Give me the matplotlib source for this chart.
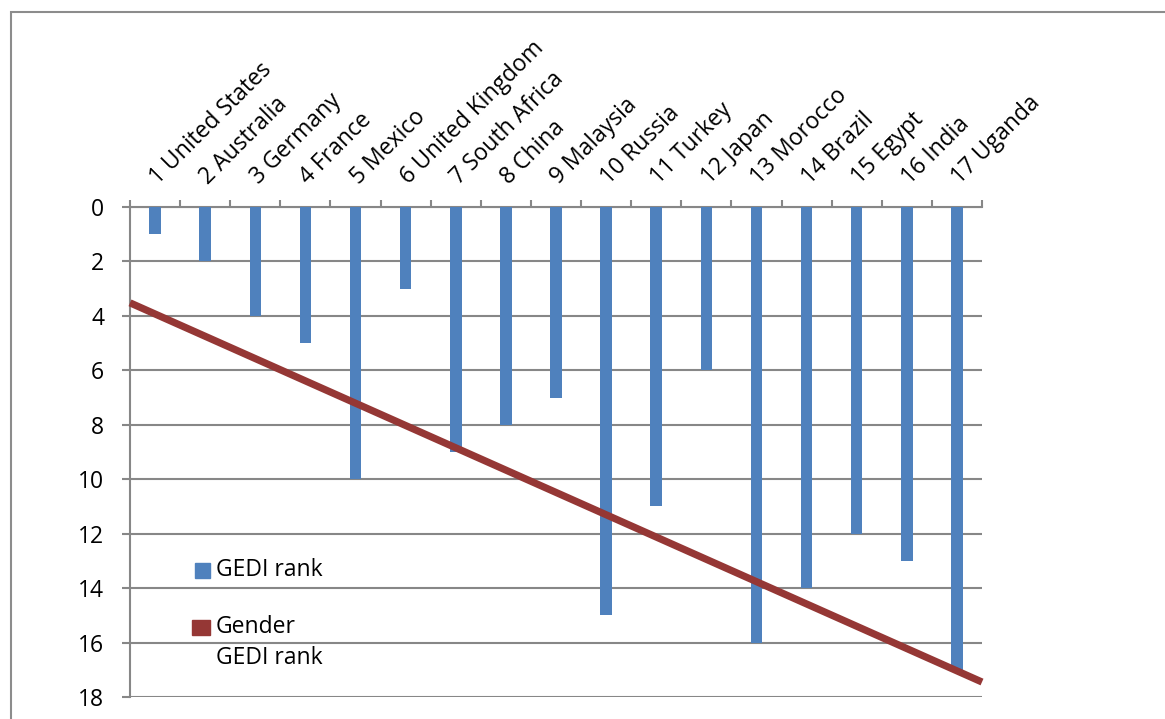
import matplotlib.pyplot as plt
import matplotlib.transforms as mtransforms
from matplotlib.patches import Rectangle

# Countries ordered by GEDI rank
countries = ["United States", "Australia", "Germany", "France", "Mexico",
             "United Kingdom", "South Africa", "China", "Malaysia", "Russia",
             "Turkey", "Japan", "Morocco", "Brazil", "Egypt", "India", "Uganda"]
gedi_rank = [1, 2, 4, 5, 10, 3, 9, 8, 7, 15, 11, 6, 16, 14, 12, 13, 17]

# Gender GEDI rank trend, value at the left and right edges of the category axis
gender_trend = [3.52, 17.45]

y_ticks = list(range(0, 19, 2))

blue = "#4F81BD"
red = "#953735"
grid_gray = "#878787"
fs = 16.5

plt.rcParams['font.family'] = ['Open Sans', 'DejaVu Sans']

W, H = 1165, 719
fig = plt.figure(figsize=(W / 100, H / 100), dpi=100)
ax = fig.add_axes([130 / W, (H - 697) / H, 852 / W, 490 / H])


def px(x, y):
    # pixel position (from top-left) to figure fraction
    return x / W, 1 - y / H


n = len(countries)
x = list(range(n))

ax.bar(x, gedi_rank, width=0.23, color=blue, zorder=3)
ax.plot([-0.5, n - 0.5], gender_trend, color=red, linewidth=5.2,
        solid_capstyle='butt', zorder=4, clip_on=False)

ax.set_xlim(-0.5, n - 0.5)
ax.set_ylim(18, 0)

# horizontal gridlines and left y ticks
ax.set_yticks(y_ticks)
ax.yaxis.grid(True, color=grid_gray, linewidth=1.5, zorder=1)
ax.tick_params(axis='y', length=6, width=1.5, color=grid_gray,
               labelsize=fs, pad=12.5)

# category axis sits at the top, ticks between the categories
ax.xaxis.tick_top()
ax.set_xticks([i - 0.5 for i in range(n + 1)])
ax.set_xticklabels([])
ax.tick_params(axis='x', length=5, width=1.5, color=grid_gray)

for side in ['right', 'bottom']:
    ax.spines[side].set_visible(False)
for side in ['left', 'top']:
    ax.spines[side].set_color(grid_gray)
    ax.spines[side].set_linewidth(1.5)

# rotated category labels above the axis
label_tr = mtransforms.offset_copy(
    mtransforms.blended_transform_factory(ax.transData, ax.transAxes),
    fig=fig, x=3, y=22, units='dots')
for i, name in enumerate(countries):
    ax.text(i, 1, f"{i + 1} {name}", transform=label_tr, rotation=45,
            rotation_mode='anchor', ha='left', va='baseline', fontsize=fs)

# legend drawn inside the plot area
fx, fy = px(195, 578)
fig.patches.append(Rectangle((fx, fy), 15 / W, 15 / H,
                             transform=fig.transFigure, color=blue, zorder=5))
fig.text(*px(216, 570), "GEDI rank", va='center', ha='left', fontsize=fs)
fx, fy = px(192, 635)
fig.patches.append(Rectangle((fx, fy), 18 / W, 15 / H,
                             transform=fig.transFigure, color=red, zorder=5))
fig.text(*px(216, 627), "Gender", va='center', ha='left', fontsize=fs)
fig.text(*px(216, 658), "GEDI rank", va='center', ha='left', fontsize=fs)

# outer chart frame
fig.patches.append(Rectangle((11 / W, -0.05), 1.1, 1 - 12 / H + 0.05,
                             transform=fig.transFigure, fill=False,
                             edgecolor="#8c8c8c", linewidth=1.5))

fig.savefig("out.png", dpi=100)
